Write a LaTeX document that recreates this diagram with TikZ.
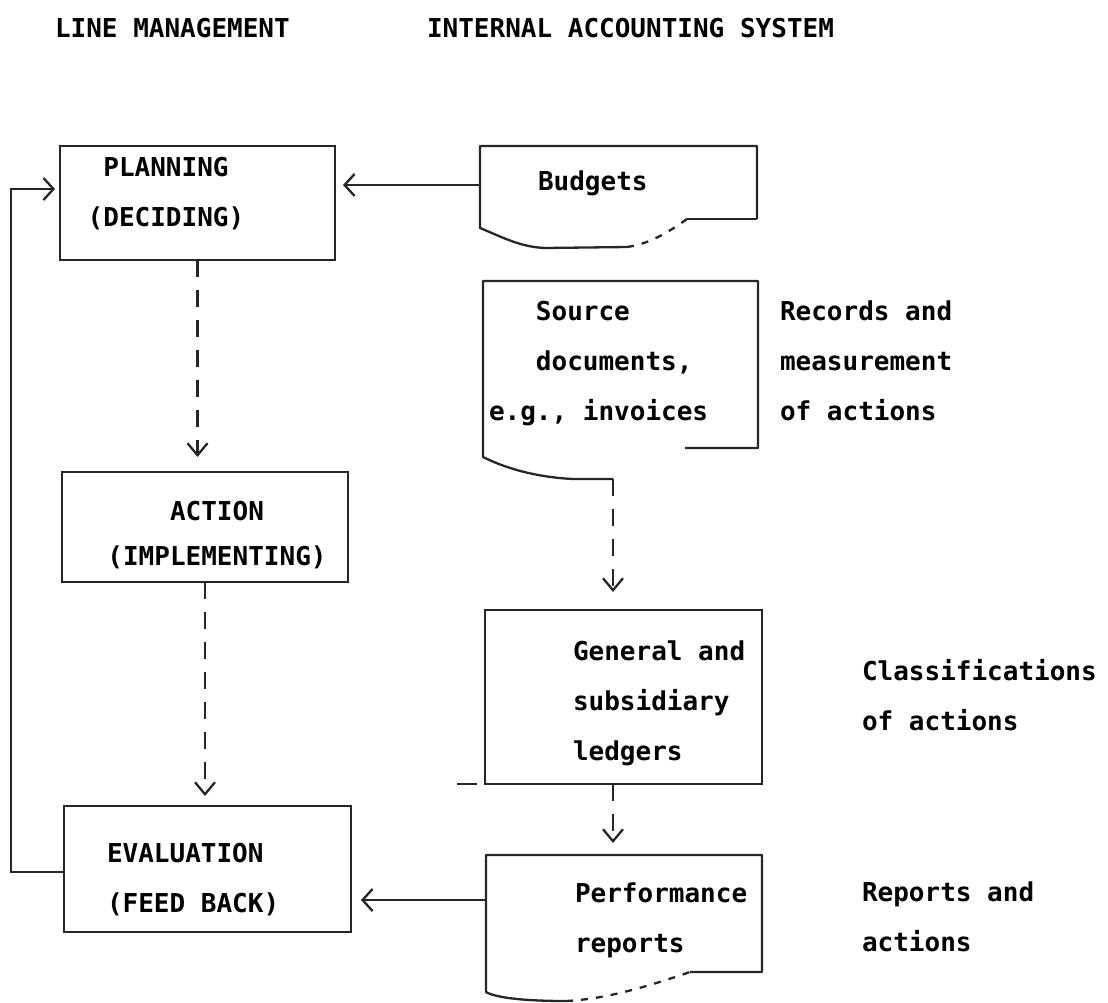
\documentclass[tikz,border=0pt]{standalone}
\usepackage{fontspec}
\setmonofont{DejaVu Sans Mono}
\usetikzlibrary{arrows.meta}
\begin{document}
\begin{tikzpicture}[x=1pt,y=-1pt,
  every node/.style={inner sep=0pt, outer sep=0pt},
  txt/.style={font=\fontsize{26}{50}\selectfont\ttfamily\bfseries, anchor=north west, align=left},
  ctxt/.style={txt, align=center, anchor=north},
  stroke/.style={line width=2.3pt, black!85},
  box/.style={draw, stroke, rectangle, anchor=north west},
  area/.style={rectangle, anchor=north west},
  arr/.style={stroke, -{Straight Barb[length=10pt,width=22pt,line width=2.3pt]}},
  darr/.style={stroke, dash pattern=on 17pt off 13pt,
    -{Straight Barb[length=12pt,width=20pt,line width=2.3pt]}},
  faint/.style={stroke, dash pattern=on 7pt off 8pt}
]
\useasboundingbox (0,0) rectangle (1108,1002);

% column headings
\node[txt] (hline) at (55,18) {LINE MANAGEMENT};
\node[txt] (hacc) at (427,18) {INTERNAL ACCOUNTING SYSTEM};

% line management boxes
\node[box, minimum width=275pt, minimum height=114pt] (plan) at (60,146) {};
\node[box, minimum width=286pt, minimum height=110pt] (act) at (62,472) {};
\node[box, minimum width=287pt, minimum height=126pt] (eval) at (64,806) {};
\node[ctxt] (plantxt) at (166,157) {PLANNING\\(DECIDING)};
\node[ctxt, font=\fontsize{26}{45}\selectfont\ttfamily\bfseries] (acttxt) at (217,501) {ACTION\\(IMPLEMENTING)};
\node[txt] (evaltxt) at (107,843) {EVALUATION\\(FEED BACK)};

% accounting system: document areas and ledger box
\node[area, minimum width=277pt, minimum height=73pt] (budg) at (480,146) {};
\node[area, minimum width=275pt, minimum height=167pt] (src) at (483,281) {};
\node[box, minimum width=277pt, minimum height=174pt] (ledg) at (485,610) {};
\node[area, minimum width=276pt, minimum height=117pt] (perf) at (486,855) {};

% document outlines with curled lower edge
\begin{scope}[shift={(budg.north west)}]
  \draw[stroke, line join=round] (277,73) -- (277,0) -- (0,0) -- (0,82)
    .. controls (22,91) and (40,101) .. (65,102) -- (147,101);
  \draw[faint] (147,101) .. controls (170,98) and (190,85) .. (207,73);
  \draw[stroke] (207,73) -- (277,73);
\end{scope}
\begin{scope}[shift={(src.north west)}]
  \draw[stroke, line join=round] (202,167) -- (275,167) -- (275,0) -- (0,0) -- (0,176)
    .. controls (20,186) and (50,196) .. (90,198) -- (130,198);
  \coordinate (srcend) at (130,198);
\end{scope}
\begin{scope}[shift={(perf.north west)}]
  \draw[stroke, line join=round] (204,117) -- (276,117) -- (276,0) -- (0,0) -- (0,137)
    .. controls (10,143) and (40,146) .. (80,146);
  \draw[faint] (80,146) .. controls (120,144) and (160,132) .. (204,117);
\end{scope}

% texts inside documents and ledger
\node[txt] (budgtxt) at (538,171) {Budgets};
\node[txt] (srctxt) at (489,301) {\phantom{xxx}Source\\\phantom{xxx}documents,\\e.g., invoices};
\node[txt] (ledgtxt) at (573,641) {General and\\subsidiary\\ledgers};
\node[txt] (perftxt) at (575,883) {Performance\\reports};

% side notes
\node[txt] (rec) at (780,301) {Records and\\measurement\\of actions};
\node[txt] (cls) at (862,659) {Classifications\\of actions};
\node[txt] (rep) at (862,882) {Reports and\\actions};

% stray mark beside ledger box
\draw[stroke] (457,784) -- (477,784);

% flows
\draw[darr, shorten >=15pt] (plan.south) -- (plan.south |- act.north);
\draw[darr, shorten >=10pt] (act.south) -- (act.south |- eval.north);
\draw[darr, shorten >=18pt] (srcend) -- (srcend |- ledg.north);
\draw[darr, shorten >=12pt] (srcend |- ledg.south) -- (srcend |- perf.north);

\coordinate (ba) at (0,185);
\draw[arr, shorten >=8pt] (budg.west |- ba) -- (plan.east |- ba);
\coordinate (pa) at (0,900);
\draw[arr, shorten >=10pt] (perf.west |- pa) -- (eval.east |- pa);

% feedback loop
\coordinate (fb1) at (11,872);
\coordinate (fb2) at (11,189);
\draw[arr, shorten >=5pt] (fb1 -| eval.west) -- (fb1) -- (fb2) -- (fb2 -| plan.west);
\end{tikzpicture}
\end{document}
